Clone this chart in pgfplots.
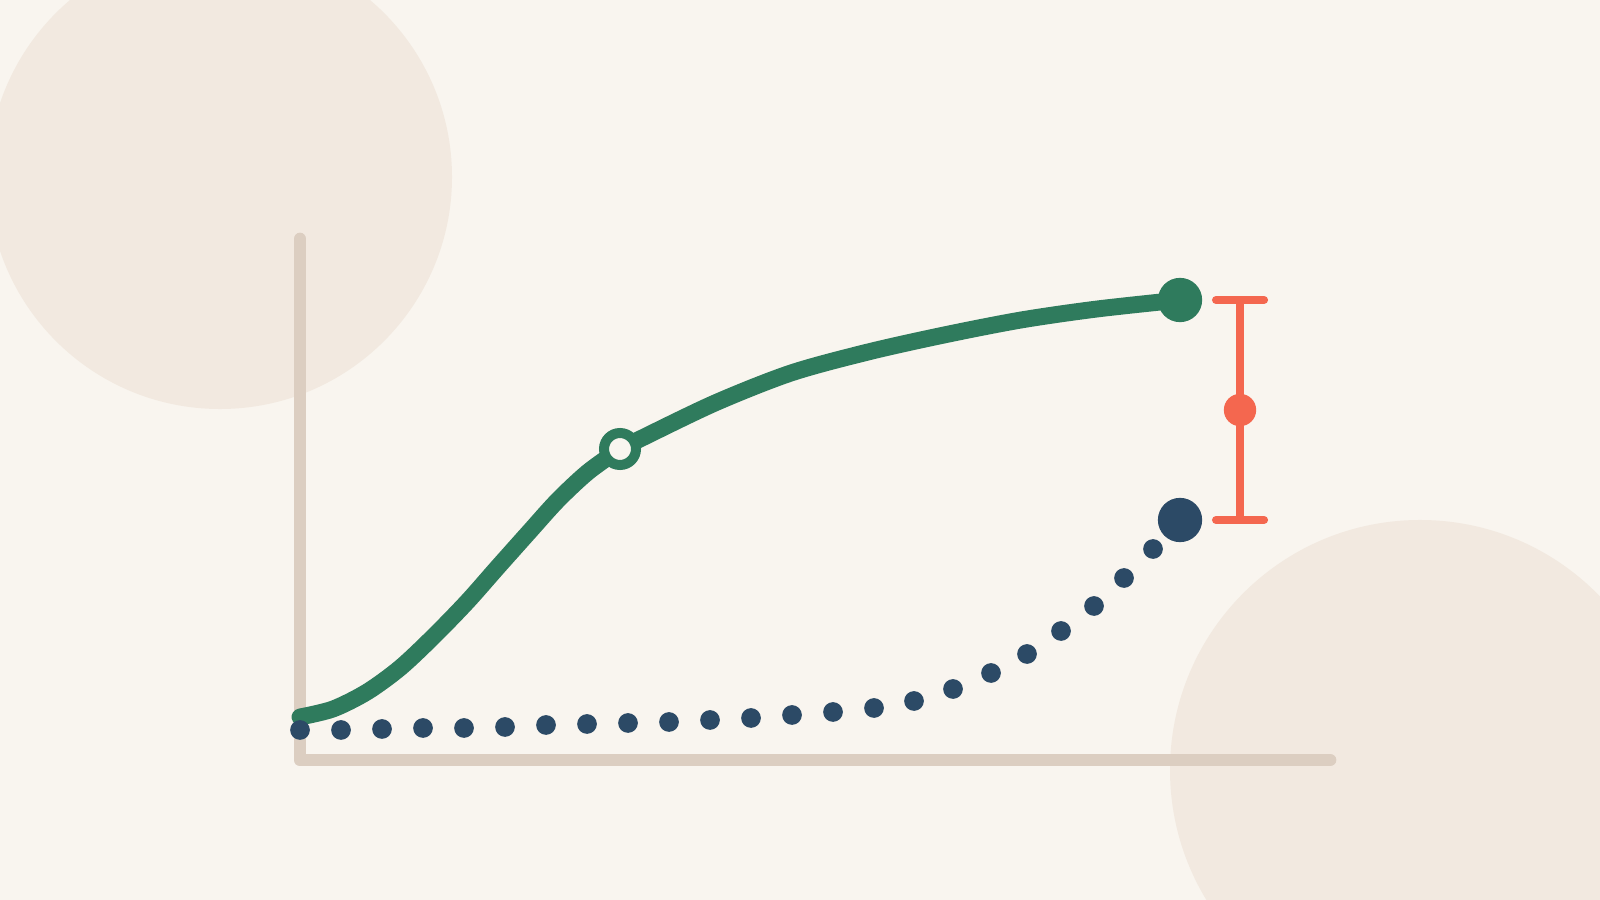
\documentclass[border=0pt]{standalone}
\usepackage{pgfplots}
\pgfplotsset{compat=1.18}

\definecolor{bg}{HTML}{F9F5EF}
\definecolor{blob}{HTML}{F2E9E0}
\definecolor{axiscol}{HTML}{DCCEC1}
\definecolor{green}{HTML}{2F7B5D}
\definecolor{navy}{HTML}{2C4A66}
\definecolor{coral}{HTML}{F4674F}

% one pixel of the 1600x900 picture = 0.01cm
\begin{document}
\begin{tikzpicture}
\begin{axis}[
    width=16cm, height=9cm, scale only axis,
    xmin=0, xmax=1600, ymin=0, ymax=900,
    y dir=reverse,
    hide axis,
    clip=true,
]
% background and decorative blobs
\addplot[fill=bg, draw=none] coordinates {(0,0) (1600,0) (1600,900) (0,900) (0,0)};
\fill[blob] (axis cs:220,177) circle[radius=2.32cm];
\fill[blob] (axis cs:1420,770) circle[radius=2.5cm];

% axis lines
\addplot[axiscol, line width=3.6pt, line cap=round, line join=round]
    coordinates {(300,239) (300,760) (1330,760)};

% green curve, two pieces meeting at the open marker
\addplot[green, line width=4.8pt, line cap=round, smooth, tension=0.5]
    coordinates {(300,717) (333,709) (367,692) (400,668) (433,637) (467,602)
                 (497,568) (530,531) (558,500) (588,472) (620,449)};
\addplot[green, line width=4.8pt, line cap=round, smooth, tension=0.5]
    coordinates {(620,449) (638,440) (715,403) (791,373) (868,352) (944,335)
                 (1021,320) (1097,309) (1180,300)};

% navy dotted series
\addplot[only marks, mark=*, mark size=2.6pt, navy]
    coordinates {(300,730) (341,730) (382,729) (423,728) (464,728) (505,727)
                 (546,725) (587,724) (628,723) (669,722) (710,720) (751,718)
                 (792,715) (833,712) (874,708) (914,701) (953,689) (991,673)
                 (1027,654) (1061,631) (1094,606) (1124,578) (1153,549)};

% end points
\addplot[only marks, mark=*, mark size=6.1pt, green] coordinates {(1180,300)};
\addplot[only marks, mark=*, mark size=6.1pt, navy] coordinates {(1180,520)};

% open marker on the green curve
\addplot[only marks, mark=*, mark size=4.55pt,
    mark options={fill=bg, draw=green, line width=2.85pt}] coordinates {(620,449)};

% error bar
\addplot[only marks, coral, mark=*, mark size=4.4pt,
    error bars/.cd, y dir=both, y explicit, error mark=|,
    error bar style={line width=2.3pt},
    error mark options={line width=2.3pt, line cap=round, mark size=0.24cm}]
    coordinates {(1240,410) +- (0,110)};
\end{axis}
\pgfresetboundingbox
\useasboundingbox (current axis.south west) rectangle (current axis.north east);
\end{tikzpicture}
\end{document}
